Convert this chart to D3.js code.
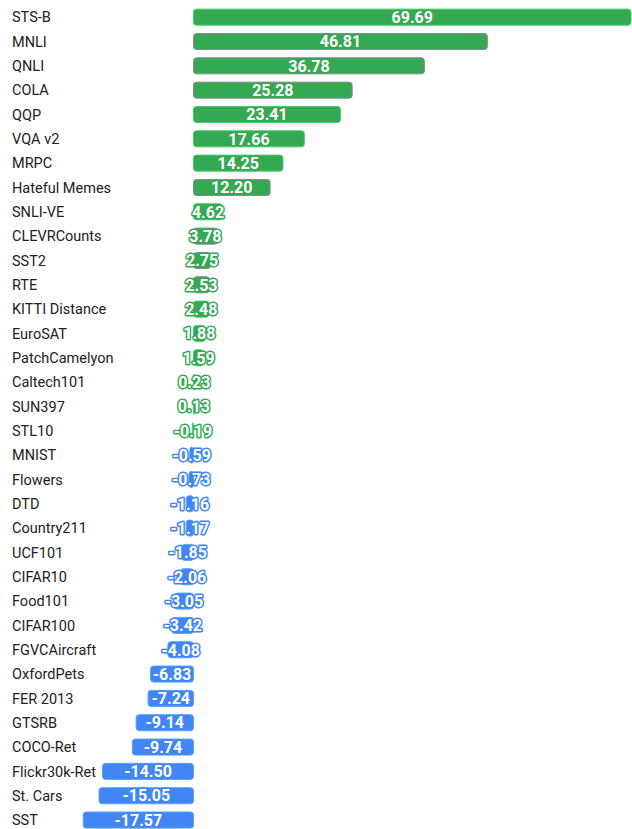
<!DOCTYPE html>
<html>
<head>
<meta charset="utf-8">
<script src="https://cdn.jsdelivr.net/npm/d3@7"></script>
<style>
  body { margin: 0; background: #fff; }
  .cat-label { font-family: Roboto, "Noto Sans", sans-serif; font-size: 14.5px; fill: #202124; }
  .val-label { font-family: Roboto, "Noto Sans", sans-serif; font-size: 16px; font-weight: bold; fill: #fff; paint-order: stroke; stroke-width: 3px; stroke-linejoin: round; }
</style>
</head>
<body>
<div id="chart"></div>
<script>
// task names, top to bottom
var tasks = ["STS-B", "MNLI", "QNLI", "COLA", "QQP", "VQA v2", "MRPC", "Hateful Memes",
    "SNLI-VE", "CLEVRCounts", "SST2", "RTE", "KITTI Distance", "EuroSAT", "PatchCamelyon",
    "Caltech101", "SUN397", "STL10", "MNIST", "Flowers", "DTD", "Country211", "UCF101",
    "CIFAR10", "Food101", "CIFAR100", "FGVCAircraft", "OxfordPets", "FER 2013", "GTSRB",
    "COCO-Ret", "Flickr30k-Ret", "St. Cars", "SST"];

// relative change (%)
var deltas = [69.69, 46.81, 36.78, 25.28, 23.41, 17.66, 14.25, 12.20,
    4.62, 3.78, 2.75, 2.53, 2.48, 1.88, 1.59,
    0.23, 0.13, -0.19, -0.59, -0.73, -1.16, -1.17, -1.85,
    -2.06, -3.05, -3.42, -4.08, -6.83, -7.24, -9.14,
    -9.74, -14.50, -15.05, -17.57];

// tasks drawn with the grey outline in the original
var outlined = ["MNLI", "QNLI", "COLA", "Hateful Memes", "CLEVRCounts", "SST2", "RTE"];

var green = "#34a853", blue = "#4285f4";

var data = tasks.map(function (t, i) { return {task: t, value: deltas[i]}; });

var width = 632, height = 829;
var margin = {top: 5, right: 1, bottom: 0, left: 0};

var svg = d3.select("#chart").append("svg")
    .attr("width", width)
    .attr("height", height);

var x = d3.scaleLinear()
    .domain([0, 69.69])
    .range([193.5, width - margin.right]);

var y = d3.scaleBand()
    .domain(tasks)
    .range([margin.top, margin.top + 24.33 * tasks.length])
    .paddingInner(0.34)
    .paddingOuter(0.17);

function barColor(v) {
    // STL10 (-0.19) is still green in the source
    return v > -0.5 ? green : blue;
}

var rows = svg.selectAll(".row")
    .data(data)
    .enter().append("g")
    .attr("class", "row");

rows.append("text")
    .attr("class", "cat-label")
    .attr("x", 12)
    .attr("y", function (d) { return y(d.task) + y.bandwidth() / 2; })
    .attr("dy", "0.36em")
    .text(function (d) { return d.task; });

rows.append("rect")
    .attr("x", function (d) { return Math.min(x(0), x(d.value)); })
    .attr("y", function (d) { return y(d.task); })
    .attr("width", function (d) { return Math.max(1, Math.abs(x(d.value) - x(0))); })
    .attr("height", y.bandwidth())
    .attr("rx", 3)
    .attr("fill", function (d) { return barColor(d.value); })
    .attr("stroke", function (d) {
        if (outlined.indexOf(d.task) >= 0) return "#8a8a8a";
        return d3.color(barColor(d.value)).brighter(0.6);
    })
    .attr("stroke-width", 1);

rows.append("text")
    .attr("class", "val-label")
    .attr("x", function (d) { return (x(0) + x(d.value)) / 2; })
    .attr("y", function (d) { return y(d.task) + y.bandwidth() / 2; })
    .attr("dy", "0.36em")
    .attr("text-anchor", "middle")
    .attr("stroke", function (d) { return barColor(d.value); })
    .text(function (d) { return d.value.toFixed(2); });
</script>
</body>
</html>
